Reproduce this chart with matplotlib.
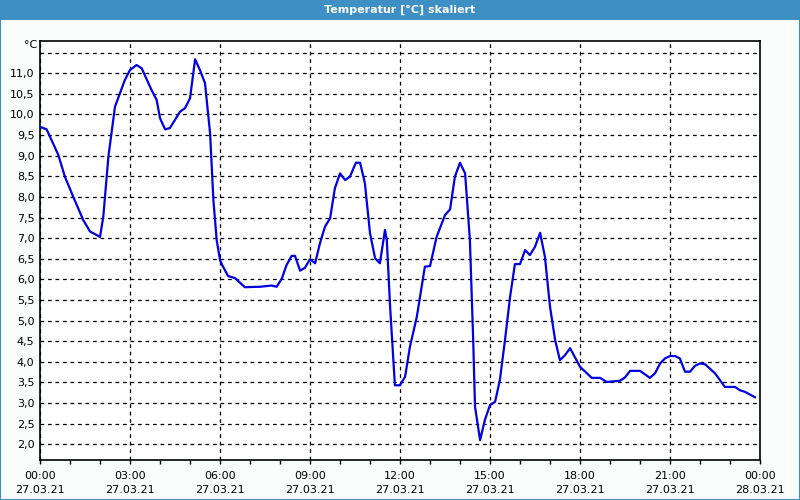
import numpy as np
import matplotlib
matplotlib.use('Agg')
import matplotlib.pyplot as plt
from matplotlib.patches import Rectangle

# Stunden seit 27.03.21 00:00 und Temperatur in °C
hours = [0.0, 0.22, 0.61, 0.83, 1.11, 1.44, 1.67, 2.0, 2.11, 2.28, 2.5, 2.83,
         3.0, 3.22, 3.39, 3.72, 3.89, 4.0, 4.17, 4.33, 4.67, 4.83, 5.0, 5.17,
         5.33, 5.5, 5.67, 5.78, 5.89, 6.0, 6.07, 6.27, 6.5, 6.83, 7.33, 7.72,
         7.89, 8.06, 8.22, 8.39, 8.5, 8.67, 8.83, 9.0, 9.17, 9.33, 9.5, 9.67,
         9.83, 10.0, 10.17, 10.33, 10.53, 10.67, 10.83, 11.0, 11.17, 11.33,
         11.5, 11.56, 11.67, 11.83, 12.0, 12.17, 12.33, 12.56, 12.83, 13.0,
         13.22, 13.5, 13.67, 13.83, 14.0, 14.17, 14.33, 14.44, 14.5, 14.67,
         14.83, 15.0, 15.17, 15.33, 15.5, 15.67, 15.83, 16.0, 16.17, 16.33,
         16.5, 16.67, 16.83, 17.0, 17.17, 17.33, 17.5, 17.67, 18.0, 18.39,
         18.67, 18.89, 19.33, 19.5, 19.67, 20.0, 20.33, 20.5, 20.67, 20.83,
         21.0, 21.17, 21.33, 21.5, 21.67, 21.83, 22.0, 22.17, 22.5, 22.83,
         23.17, 23.33, 23.5, 23.83]
temps = [9.70, 9.64, 9.02, 8.49, 8.00, 7.44, 7.16, 7.03, 7.52, 8.98, 10.19, 10.84,
         11.08, 11.20, 11.12, 10.59, 10.35, 9.91, 9.64, 9.67, 10.07, 10.15, 10.39, 11.34,
         11.08, 10.76, 9.54, 7.92, 6.95, 6.47, 6.35, 6.08, 6.03, 5.81, 5.82, 5.85,
         5.82, 6.02, 6.35, 6.57, 6.57, 6.21, 6.28, 6.49, 6.39, 6.87, 7.28, 7.48,
         8.21, 8.57, 8.41, 8.49, 8.83, 8.83, 8.33, 7.12, 6.51, 6.39,
         7.20, 6.95, 5.34, 3.43, 3.43, 3.64, 4.36, 5.09, 6.31, 6.32,
         7.03, 7.56, 7.70, 8.49, 8.83, 8.57, 6.95, 4.52, 2.91, 2.10,
         2.59, 2.95, 3.03, 3.56, 4.53, 5.58, 6.37, 6.37, 6.71, 6.59,
         6.79, 7.13, 6.55, 5.34, 4.53, 4.04, 4.16, 4.33, 3.88, 3.61,
         3.61, 3.51, 3.54, 3.62, 3.78, 3.78, 3.61, 3.72, 3.96, 4.08,
         4.14, 4.14, 4.08, 3.76, 3.76, 3.90, 3.96, 3.94, 3.72, 3.39,
         3.39, 3.31, 3.27, 3.14]

x_ticks = [0, 3, 6, 9, 12, 15, 18, 21, 24]
x_labels = ['00:00\n27.03.21', '03:00\n27.03.21', '06:00\n27.03.21',
            '09:00\n27.03.21', '12:00\n27.03.21', '15:00\n27.03.21',
            '18:00\n27.03.21', '21:00\n27.03.21', '00:00\n28.03.21']
y_ticks = [2.0, 2.5, 3.0, 3.5, 4.0, 4.5, 5.0, 5.5, 6.0, 6.5, 7.0, 7.5,
           8.0, 8.5, 9.0, 9.5, 10.0, 10.5, 11.0, 11.5]

plt.rcParams['font.family'] = ['DejaVu Sans']
plt.rcParams['font.size'] = 8

fig = plt.figure(figsize=(8, 5), dpi=100, facecolor='#f9fcfb')

# Titelleiste und Rahmen
fig.patches.append(Rectangle((0, 0.96), 1, 0.04, transform=fig.transFigure,
                             facecolor='#3d8fc4', edgecolor='none', zorder=0))
fig.patches.append(Rectangle((0, 0), 1, 1, transform=fig.transFigure,
                             facecolor='none', edgecolor='#3d8fc4',
                             linewidth=1.5, zorder=0))
fig.text(0.5, 0.98, 'Temperatur [°C] skaliert', color='white',
         fontweight='bold', fontsize=8, ha='center', va='center')

ax = fig.add_axes([0.05, 0.0794, 0.90, 0.8392])
ax.set_facecolor('white')
ax.plot(hours, temps, color='#0000e6', linewidth=1.6, zorder=3)

ax.set_xlim(0, 24)
ax.set_ylim(1.61, 11.79)

ax.set_xticks(x_ticks)
ax.set_xticklabels(x_labels, linespacing=1.5)
ax.set_xticks(np.arange(0, 25, 1), minor=True)
ax.set_yticks(y_ticks)
ax.set_yticklabels([f'{v:.1f}'.replace('.', ',') if v < 11.25 else ''
                    for v in y_ticks])

ax.tick_params(axis='x', which='both', length=3, width=1, direction='out',
               pad=5, colors='black')
ax.tick_params(axis='y', length=0, pad=4)

ax.grid(True, which='major', color='black', linestyle=(0, (3, 3)),
        linewidth=0.9)
for s in ax.spines.values():
    s.set_linewidth(1.2)
    s.set_color('black')

fig.text(0.046, 0.91, '°C', ha='right', va='center', fontsize=8)

fig.savefig('out.png', dpi=100, facecolor=fig.get_facecolor())
